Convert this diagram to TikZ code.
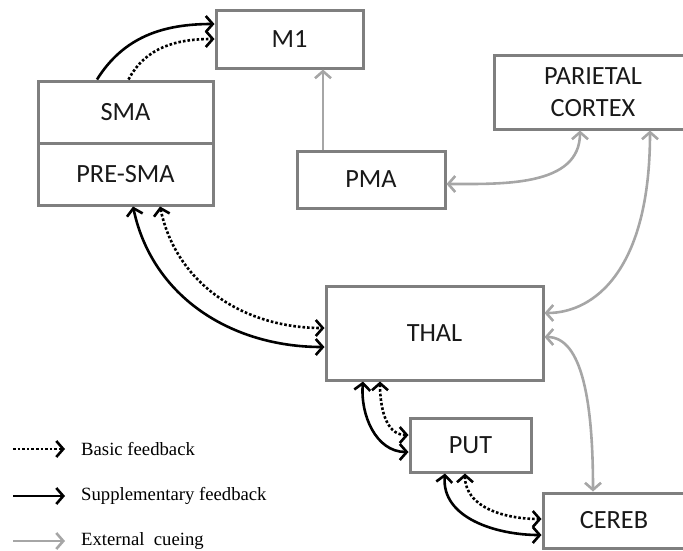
\documentclass[tikz,border=0pt]{standalone}
\usepackage{fontspec}
\setmainfont{Carlito}
\newfontfamily\legfont{Liberation Serif}
\usepackage{tikz}
\usetikzlibrary{arrows.meta}
\definecolor{boxgray}{HTML}{7F7F7F}
\definecolor{extgray}{HTML}{A6A6A6}

\begin{document}
\begin{tikzpicture}[x=1pt,y=1pt,
  box/.style={draw=boxgray,line width=3pt,align=center,text=black!90,
    font=\fontsize{26.3}{32}\selectfont},
  fb/.style={line width=2.6pt,-{Straight Barb[length=7pt,width=16pt]}},
  both/.style={{Straight Barb[length=7pt,width=16pt]}-{Straight Barb[length=7pt,width=16pt]}},
  basic/.style={fb,dotted},
  supp/.style={fb},
  ext/.style={fb,extgray},
  leg/.style={anchor=west,inner sep=0pt,font=\legfont\fontsize{18.7}{22}\selectfont}]
\useasboundingbox (0,0) rectangle (683,-550);

\node[box,minimum width=147,minimum height=58] (m1)     at (289.5,-39)  {M1};
\node[box,minimum width=175,minimum height=62] (sma)    at (125.5,-112) {SMA};
\node[box,minimum width=175,minimum height=62] (presma) at (125.5,-174) {PRE-SMA};
\node[box,minimum width=148,minimum height=57] (pma)    at (371,-179.5) {PMA};
\node[box,minimum width=198,minimum height=74] (par)    at (593,-92)    {PARIETAL\\CORTEX};
\node[box,minimum width=217,minimum height=94] (thal)   at (434.5,-333) {THAL};
\node[box,minimum width=121,minimum height=54] (put)    at (470.5,-445) {PUT};
\node[box,minimum width=142,minimum height=55] (cereb)  at (614,-520.5) {CEREB};

\draw[supp]  ([xshift=-28.5]sma.north) to[out=58,in=180] ([yshift=15]m1.west);
\draw[basic] ([xshift=3]sma.north) to[out=62,in=180] (m1.west);
\draw[ext]   ([xshift=-48]pma.north) -- ([xshift=-48]pma.north |- m1.south);

\draw[ext,both] ([yshift=-4.5]pma.east) to[out=0,in=-90] ([xshift=-13]par.south);
\draw[ext,both] ([xshift=57]par.south) to[out=-90,in=0,out looseness=1.7,in looseness=0.6] ([yshift=20]thal.east);
\draw[ext,both] ([yshift=-4]thal.east) to[out=0,in=90,out looseness=0.6,in looseness=1.4] ([xshift=-21]cereb.north);

\draw[supp,both]  ([xshift=7.5]presma.south) to[out=-78,in=180] ([yshift=-14]thal.west);
\draw[basic,both] ([xshift=34.5]presma.south) to[out=-78,in=180] ([yshift=5]thal.west);
\draw[supp,both]  ([xshift=-71.5]thal.south) to[out=-95,in=180] ([yshift=-7]put.west);
\draw[basic,both] ([xshift=-54.5]thal.south) to[out=-90,in=180] ([yshift=10]put.west);
\draw[supp,both]  ([xshift=-25.5]put.south) to[out=-95,in=180] ([yshift=-14.5]cereb.west);
\draw[basic,both] ([xshift=-5.5]put.south) to[out=-90,in=180] ([yshift=1.5]cereb.west);

\node[leg] (lbasic) at (81,-449) {Basic feedback};
\node[leg] (lsupp)  at (81,-496) {Supplementary feedback};
\node[leg] (lext)   at (81,-541) {External\ \ cueing};
\coordinate (lbasic0) at (13,-449);
\coordinate (lsupp0)  at (13,-496);
\coordinate (lext0)   at (13,-541);
\draw[basic] (lbasic0) -- ([xshift=-16]lbasic.west);
\draw[supp]  (lsupp0)  -- ([xshift=-16]lsupp.west);
\draw[ext]   (lext0)   -- ([xshift=-16]lext.west);
\end{tikzpicture}
\end{document}
